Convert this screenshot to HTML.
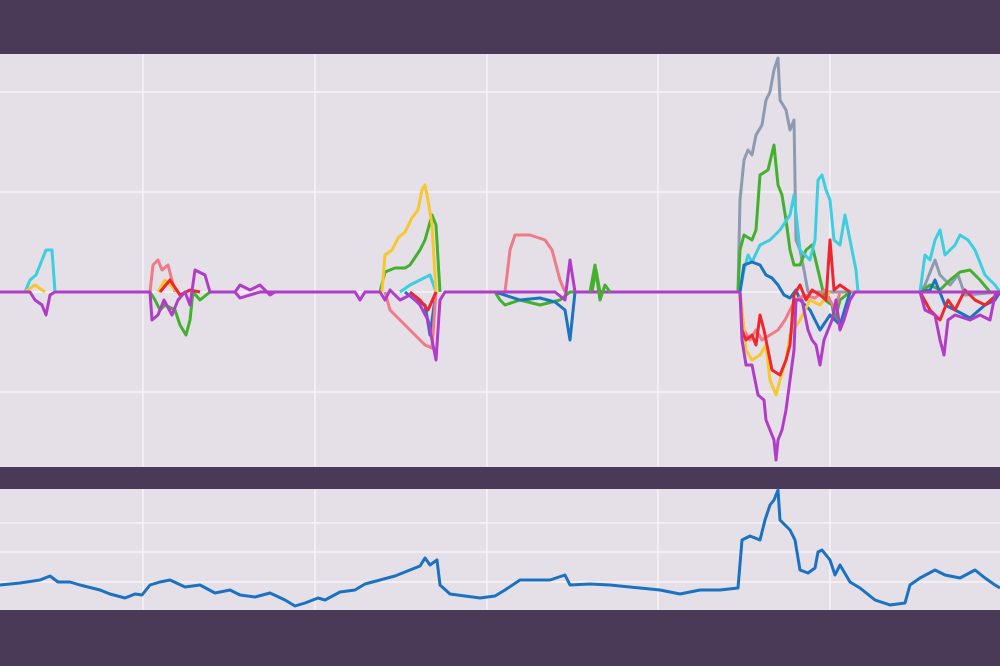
<!DOCTYPE html>
<html><head><style>
html,body{margin:0;padding:0;background:#4b3a57;}
svg{display:block}
</style></head><body>
<svg width="1000" height="666" viewBox="0 0 1000 666" xmlns="http://www.w3.org/2000/svg">
<rect width="1000" height="666" fill="#4b3a57"/>
<rect x="0" y="54" width="1000" height="413" fill="#e5dfe8"/>
<rect x="0" y="489" width="1000" height="121" fill="#e5dfe8"/>
<g stroke="#f7f3f8" stroke-width="1.5">
<line x1="143" y1="54" x2="143" y2="467"/><line x1="315" y1="54" x2="315" y2="467"/>
<line x1="487" y1="54" x2="487" y2="467"/><line x1="658" y1="54" x2="658" y2="467"/>
<line x1="830" y1="54" x2="830" y2="467"/>
<line x1="0" y1="92" x2="1000" y2="92"/><line x1="0" y1="192" x2="1000" y2="192"/>
<line x1="0" y1="292" x2="1000" y2="292"/><line x1="0" y1="392" x2="1000" y2="392"/>
<line x1="143" y1="489" x2="143" y2="610"/><line x1="315" y1="489" x2="315" y2="610"/>
<line x1="487" y1="489" x2="487" y2="610"/><line x1="658" y1="489" x2="658" y2="610"/>
<line x1="830" y1="489" x2="830" y2="610"/>
<line x1="0" y1="523" x2="1000" y2="523"/><line x1="0" y1="552" x2="1000" y2="552"/>
<line x1="0" y1="582" x2="1000" y2="582"/>
</g>
<g fill="none" stroke-width="3" stroke-linejoin="round">
<!-- gray -->
<polyline stroke="#8d9bb0" points="738,292 740,200 744,160 748,150 752,155 756,135 762,125 766,100 770,92 774,70 778,58 780,100 786,110 790,130 794,120 796,240 800,250 804,270 808,292 860,292"/>
<polyline stroke="#8d9bb0" points="920,292 925,285 935,260 940,275 950,285 958,275 965,295 1000,292"/>
<!-- green -->
<polyline stroke="#43b02e" points="738,292 740,250 744,235 752,240 756,230 760,175 768,170 774,145 778,185 782,195 786,220 790,250 794,265 800,265 806,250 812,245 818,270 825,300 832,305 835,320 840,300 850,292"/>
<polyline stroke="#43b02e" points="380,292 385,272 395,268 405,268 410,265 420,250 425,240 432,215 436,225 440,292"/>
<polyline stroke="#43b02e" points="150,292 155,300 160,310 165,305 175,310 180,325 186,335 190,320 193,292 200,300 210,292"/>
<polyline stroke="#43b02e" points="495,292 500,300 505,305 520,300 540,305 560,300 570,292 580,292 592,292 596,270 600,292"/>
<polyline stroke="#43b02e" points="920,292 930,285 940,290 950,280 960,272 970,270 980,280 990,292 1000,292"/>
<!-- cyan -->
<polyline stroke="#3ccfe0" points="740,292 744,270 748,255 752,262 760,245 770,240 780,230 790,215 794,195 800,250 810,260 815,240 818,180 822,175 826,190 830,200 834,240 840,245 845,215 850,240 856,270 858,292"/>
<polyline stroke="#3ccfe0" points="920,292 925,255 930,260 935,240 940,230 945,255 955,245 960,235 968,240 975,250 985,275 995,285 1000,292"/>
<polyline stroke="#3ccfe0" points="25,292 30,280 36,275 42,260 46,250 52,250 55,292"/>
<polyline stroke="#3ccfe0" points="400,292 410,285 420,280 430,275 436,292"/>
<!-- blue dark -->
<polyline stroke="#1a74bf" points="740,292 744,265 752,262 760,265 766,275 772,278 778,285 784,295 790,298 796,290 800,300 810,310 820,330 830,315 840,325 850,292"/>
<polyline stroke="#1a74bf" points="495,292 520,300 540,298 555,302 565,310 570,340 575,292"/>
<polyline stroke="#1a74bf" points="920,292 930,290 935,280 945,305 955,310 970,318 985,305 995,300 1000,292"/>
<polyline stroke="#1a74bf" points="405,292 415,300 425,305 430,335 436,292"/>
<!-- pink -->
<polyline stroke="#f07a86" points="740,292 744,330 750,340 756,330 762,340 770,335 778,330 785,320 795,300 805,295 815,298 825,290 835,310 840,292"/>
<polyline stroke="#f07a86" points="505,292 510,250 515,235 530,235 545,240 552,250 556,265 560,280 565,292"/>
<polyline stroke="#f07a86" points="385,292 390,310 400,320 410,330 420,340 425,345 432,348 436,292"/>
<polyline stroke="#f07a86" points="150,292 153,265 158,260 162,270 168,265 175,292"/>
<!-- yellow -->
<polyline stroke="#f6c72f" points="382,292 385,255 392,250 398,238 405,232 412,218 418,210 422,190 425,185 428,200 432,225 436,292"/>
<polyline stroke="#f6c72f" points="740,292 746,350 752,360 760,355 766,345 770,380 776,395 780,380 786,360 790,335 800,320 810,300 820,305 830,292"/>
<polyline stroke="#f6c72f" points="25,292 35,285 45,292"/>
<polyline stroke="#f6c72f" points="158,292 165,280 170,285 178,292"/>
<!-- red -->
<polyline stroke="#f0262e" points="740,292 742,330 746,340 752,335 756,345 760,315 764,330 768,350 772,370 780,375 786,360 790,345 794,295 800,285 806,300 812,290 820,295 826,300 830,240 834,290 840,285 850,292"/>
<polyline stroke="#f0262e" points="920,292 930,310 940,320 948,300 955,310 965,290 975,300 985,305 1000,292"/>
<polyline stroke="#f0262e" points="160,292 170,280 180,295 190,290 200,292"/>
<polyline stroke="#f0262e" points="410,292 420,300 428,310 436,292"/>
<!-- purple -->
<polyline stroke="#b03cc8" points="740,292 742,340 746,365 752,365 758,395 764,400 766,420 770,430 774,440 776,460 778,440 782,430 786,410 790,380 794,350 796,300 802,300 808,330 812,340 816,345 820,365 824,340 828,330 832,320 836,300 840,330 844,320 850,300 855,292 1000,292"/>
<polyline stroke="#b03cc8" points="920,292 925,310 935,315 940,340 944,355 948,320 955,315 970,320 980,315 990,320 995,295 1000,292"/>
<polyline stroke="#b03cc8" points="0,292 30,292 35,300 42,305 46,315 50,295 55,292 150,292 152,320 158,315 164,300 172,315 178,300 185,292 190,305 195,270 205,275 210,292 235,292 240,298 260,292 275,292 355,292 360,300 365,292 380,292 385,300 390,290 400,300 410,295 420,305 428,320 432,340 436,360 440,300 445,292 495,292 555,292 565,300 570,260 575,292 740,292"/>
<polyline stroke="#b03cc8" points="235,292 240,285 250,290 260,285 270,295 275,292"/>
<polyline stroke="#43b02e" points="590,292 595,265 600,300 605,285 610,292"/>
</g>
<polyline fill="none" stroke="#1a72c0" stroke-width="3" stroke-linejoin="round" points="0,585 20,583 40,580 50,576 58,582 70,582 80,585 100,590 110,594 125,598 135,594 142,595 150,585 160,582 170,580 185,587 200,585 215,593 230,590 240,595 255,597 270,593 285,600 295,606 305,603 318,598 325,600 340,592 355,590 365,584 380,580 395,576 410,570 420,566 425,558 430,565 437,560 440,585 450,594 465,596 480,598 495,596 505,590 520,580 550,580 565,575 570,585 590,584 610,585 640,588 660,590 680,594 700,590 720,590 738,588 742,540 750,536 760,540 765,520 770,505 774,500 778,490 780,520 790,530 795,540 800,570 808,573 815,568 818,552 822,550 830,560 835,575 840,565 850,582 860,588 875,600 890,605 905,603 910,585 920,578 935,570 945,575 960,578 975,570 985,578 995,585 1000,588"/>
</svg>
</body></html>
